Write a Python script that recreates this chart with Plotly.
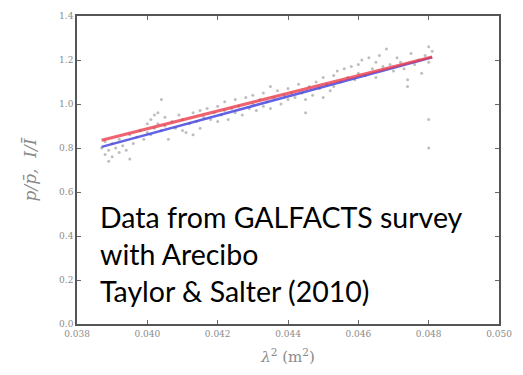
import plotly.graph_objects as go

# Squared wavelength (m^2) of each channel sample and its normalised intensity
lam2 = [0.0387, 0.0388, 0.0388, 0.0389, 0.0389, 0.0390, 0.0390, 0.0391, 0.0392, 0.0392,
        0.0393, 0.0394, 0.0395, 0.0395, 0.0396, 0.0397, 0.0398, 0.0399, 0.0400, 0.0400,
        0.0401, 0.0401, 0.0402, 0.0402, 0.0403, 0.0403, 0.0404, 0.0404, 0.0405, 0.0405,
        0.0406, 0.0407, 0.0408, 0.0409, 0.0410, 0.0410, 0.0411, 0.0412, 0.0413, 0.0413,
        0.0414, 0.0415, 0.0415, 0.0416, 0.0417, 0.0418, 0.0419, 0.0420, 0.0420, 0.0421,
        0.0422, 0.0422, 0.0423, 0.0424, 0.0425, 0.0425, 0.0426, 0.0427, 0.0428, 0.0429,
        0.0430, 0.0430, 0.0431, 0.0432, 0.0433, 0.0433, 0.0434, 0.0435, 0.0435, 0.0436,
        0.0437, 0.0438, 0.0439, 0.0440, 0.0440, 0.0441, 0.0442, 0.0443, 0.0444, 0.0445,
        0.0445, 0.0446, 0.0447, 0.0448, 0.0449, 0.0450, 0.0450, 0.0451, 0.0452, 0.0453,
        0.0453, 0.0454, 0.0455, 0.0456, 0.0457, 0.0458, 0.0459, 0.0460, 0.0460, 0.0461,
        0.0462, 0.0463, 0.0464, 0.0465, 0.0465, 0.0466, 0.0467, 0.0468, 0.0469, 0.0470,
        0.0471, 0.0472, 0.0473, 0.0474, 0.0474, 0.0475, 0.0476, 0.0477, 0.0478, 0.0479,
        0.0480, 0.0480, 0.0481, 0.0480, 0.0480]
ratio = [0.80, 0.83, 0.77, 0.74, 0.79, 0.82, 0.76, 0.80, 0.78, 0.84,
         0.81, 0.79, 0.86, 0.75, 0.82, 0.85, 0.88, 0.84, 0.87, 0.91,
         0.93, 0.86, 0.95, 0.89, 0.96, 0.91, 1.02, 0.88, 0.94, 0.90,
         0.84, 0.92, 0.89, 0.95, 0.88, 0.93, 0.87, 0.91, 0.86, 0.96,
         0.92, 0.89, 0.97, 0.94, 0.98, 0.93, 0.96, 0.92, 0.99, 0.95,
         0.97, 1.01, 0.93, 0.98, 0.96, 1.02, 0.99, 0.95, 1.03, 0.98,
         1.00, 1.04, 0.97, 1.02, 1.05, 0.99, 1.01, 1.08, 0.98, 1.03,
         1.06, 1.00, 1.04, 1.07, 1.02, 1.05, 1.03, 1.09, 1.05, 1.02,
         0.96, 1.08, 1.04, 1.10, 1.07, 1.12, 1.03, 1.09, 1.06, 1.13,
         1.08, 1.15, 1.10, 1.16, 1.12, 1.17, 1.11, 1.18, 1.14, 1.20,
         1.13, 1.21, 1.16, 1.19, 1.12, 1.22, 1.17, 1.25, 1.18, 1.15,
         1.21, 1.19, 1.16, 1.08, 1.11, 1.23, 1.18, 1.20, 1.14, 1.22,
         1.19, 1.26, 1.24, 0.93, 0.80]

# Linear fits: polarized intensity (red) and total intensity (blue)
fit_x = [0.0387, 0.0481]
fit_p = [0.835, 1.214]
fit_i = [0.805, 1.212]

x_ticks = [0.038, 0.040, 0.042, 0.044, 0.046, 0.048, 0.050]
y_ticks = [0.0, 0.2, 0.4, 0.6, 0.8, 1.0, 1.2, 1.4]

note_lines = ["Data from GALFACTS survey", "with Arecibo", "Taylor &amp; Salter (2010)"]

fig = go.Figure()
fig.add_trace(go.Scatter(
    x=lam2, y=ratio, mode="markers",
    marker=dict(size=3, color="rgba(110,110,110,0.45)", line=dict(width=0)),
    showlegend=False, hoverinfo="skip"))
fig.add_trace(go.Scatter(
    x=fit_x, y=fit_i, mode="lines",
    line=dict(color="rgba(70,70,225,0.85)", width=2.5), showlegend=False))
fig.add_trace(go.Scatter(
    x=fit_x, y=fit_p, mode="lines",
    line=dict(color="rgba(235,60,75,0.8)", width=3), showlegend=False))

axis_common = dict(
    showgrid=False, zeroline=False, showline=True, linecolor="#555", linewidth=1.5,
    mirror="ticks", ticks="inside", ticklen=4, tickcolor="#666", tickwidth=1,
    ticklabeloverflow="allow",
    tickfont=dict(family="DejaVu Serif", size=9, color="#8a8a8a"),
)

fig.update_xaxes(range=[0.038, 0.050], tickvals=x_ticks,
                 ticktext=[f"{v:.3f}" for v in x_ticks],
                 title=dict(text="<i>λ</i><sup>2</sup> (m<sup>2</sup>)",
                            font=dict(family="DejaVu Serif", size=15, color="#8a8a8a"),
                            standoff=14),
                 **axis_common)
fig.update_yaxes(range=[0, 1.4], tickvals=y_ticks,
                 ticktext=[f"{v:.1f}" for v in y_ticks],
                 title=dict(text="<i>p/p̄,  I/Ī</i>",
                            font=dict(family="DejaVu Serif", size=17, color="#8a8a8a"),
                            standoff=18),
                 **axis_common)

fig.add_annotation(
    xref="paper", yref="paper", x=0.05, y=0.41, xanchor="left", yanchor="top",
    align="left", showarrow=False, text="<br>".join(note_lines),
    font=dict(family="Lato", size=28.5, color="black"))

fig.update_layout(
    width=523, height=375,
    margin=dict(l=77, r=11, t=15, b=51),
    paper_bgcolor="white", plot_bgcolor="white",
)

fig.write_html("out.html")
